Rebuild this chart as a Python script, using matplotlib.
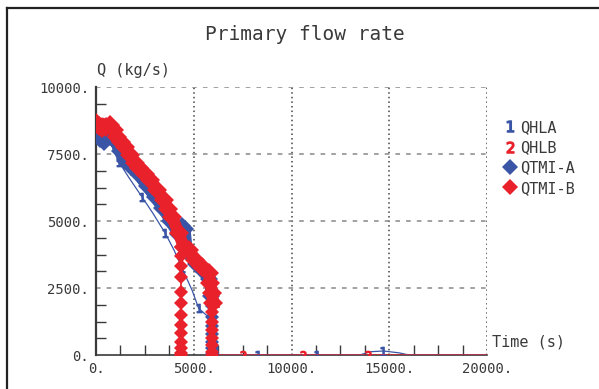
import numpy as np
import matplotlib
matplotlib.use('Agg')
import matplotlib.pyplot as plt
from matplotlib.lines import Line2D

## Data (time in s, flow in kg/s)

# QHLA (thin blue line, "1" markers)
hla_time = [0, 400, 820, 1160, 1700, 2350, 2900, 3545, 4000, 4400, 4910, 5250, 5935, 6275,
            7000, 8260, 9500, 11300, 12500, 13500, 14000, 14700, 15500, 16000, 20000]
hla_flow = [8400, 8150, 7770, 7210, 6600, 5900, 5300, 4540, 3900, 3235, 2425, 1740, 1300, 0,
            0, 0, 0, 0, 0, 0, 120, 150, 80, 0, 0]
hla_marks = [3, 5, 7, 9, 11, 15, 17, 21]

# QHLB (thin red line, "2" markers)
hlb_time = [0, 300, 700, 1100, 1500, 2200, 2800, 3500, 3900, 4300, 4700, 5100, 5500, 5800,
            5950, 6050, 7500, 10600, 13900, 20000]
hlb_flow = [8700, 8700, 8600, 8150, 7780, 6960, 6530, 5780, 5160, 4200, 3900, 3550, 3250, 3000,
            2000, 0, 0, 0, 0, 0]
hlb_marks = [1, 16, 17, 18]

# QTMI-A (blue diamonds)
tmia_time = [0, 200, 400, 700, 1000, 1250, 1500, 1800, 2200, 2600, 3000, 3400, 3800, 4200,
             4400, 4550, 4650, 4800, 5100, 5450, 5800, 5900]
tmia_flow = [8250, 8050, 7950, 8150, 7950, 7600, 7250, 7000, 6700, 6300, 5900, 5500, 5000, 4500,
             4800, 4700, 4000, 3750, 3400, 3150, 2850, 2200]
tmia_drop_time = 5950
tmia_drop_flow = [2200, 1830, 1430, 1090, 780, 500, 250, 50, 0]

# QTMI-B (red diamonds)
tmib_time = [0, 150, 300, 500, 730, 900, 1075, 1300, 1500, 1755, 2000, 2183, 2500, 2780, 3120,
             3460, 3700, 3890, 4230, 4485, 4740, 5080, 5420, 5765, 5850, 5935, 6000]
tmib_flow = [8650, 8550, 8460, 8500, 8580, 8400, 8150, 7950, 7770, 7460, 7150, 6970, 6750, 6530, 6160,
             5780, 5450, 5160, 4540, 4040, 3920, 3550, 3300, 3050, 2700, 2300, 1950]
tmib_drop1_time = 4365
tmib_drop1_flow = [4040, 3690, 3330, 2920, 2360, 1950, 1490, 1120, 810, 500, 250, 60, 0]
tmib_drop2_time = 5950
tmib_drop2_flow = [1950, 1620, 1240, 930, 620, 370, 120, 0]

blue = '#3b55a6'
red = '#e8212b'
txt = '#3a3a3a'
mono = 'DejaVu Sans Mono'

fig = plt.figure(figsize=(5.99, 3.89), dpi=100)
ax = fig.add_axes([0.1603, 0.0874, 0.6528, 0.6889])

# thin lines
ax.plot(hla_time, hla_flow, color=blue, lw=0.9, marker='$1$', ms=6, markevery=hla_marks, zorder=3)
ax.plot(hlb_time, hlb_flow, color=red, lw=0.9, marker='$2$', ms=6, markevery=hlb_marks, zorder=3)

# thick diamond series
ax.plot(tmia_time, tmia_flow, color=blue, lw=8, marker='D', ms=9, mew=0, zorder=4)
ax.plot([tmia_drop_time] * len(tmia_drop_flow), tmia_drop_flow, color=blue, lw=1.2,
        marker='D', ms=7, mew=0, zorder=4)
ax.plot(tmib_time, tmib_flow, color=red, lw=8.5, marker='D', ms=10, mew=0, zorder=5)
ax.plot([tmib_drop1_time] * len(tmib_drop1_flow), tmib_drop1_flow, color=red, lw=1.2,
        marker='D', ms=7.5, mew=0, zorder=5)
ax.plot([tmib_drop2_time] * len(tmib_drop2_flow), tmib_drop2_flow, color=red, lw=1.2,
        marker='D', ms=7.5, mew=0, zorder=5)

ax.set_xlim(0, 20000)
ax.set_ylim(0, 10000)

for s in ['top', 'right']:
    ax.spines[s].set_visible(False)
ax.spines['left'].set_linewidth(1.6)
ax.spines['left'].set_color(txt)
ax.spines['bottom'].set_linewidth(1.2)
ax.spines['bottom'].set_color(txt)

xt = [0, 5000, 10000, 15000, 20000]
yt = [0, 2500, 5000, 7500, 10000]
ax.set_xticks(xt, [str(v) + '.' for v in xt])
ax.set_yticks(yt, [str(v) + '.' for v in yt])
ax.set_xticks(np.arange(0, 20001, 1250), minor=True)
ax.set_yticks(np.arange(0, 10001, 625), minor=True)
ax.tick_params(which='major', length=0, labelsize=10, labelcolor=txt)
ax.tick_params(axis='x', which='major', pad=5)
ax.tick_params(axis='y', which='major', pad=5)
ax.tick_params(which='minor', direction='in', length=7, width=1, color=txt)
for lab in ax.get_xticklabels() + ax.get_yticklabels():
    lab.set_family(mono)

# grid: dotted verticals, dashed horizontals
for v in xt[1:]:
    ax.axvline(v, color='#444444', lw=1.1, ls=(0, (1, 2)), zorder=1)
for v in yt[1:]:
    ax.axhline(v, color='#888888', lw=1.1, ls=(0, (3, 4)), zorder=1)

# texts
fig.text(0.509, 1 - 35 / 389, 'Primary flow rate', ha='center', va='center',
         fontsize=14, family=mono, color=txt)
fig.text(97 / 599, 1 - 71 / 389, 'Q (kg/s)', ha='left', va='center',
         fontsize=11, family=mono, color=txt)
fig.text(492 / 599, 1 - 342 / 389, 'Time (s)', ha='left', va='center',
         fontsize=11, family=mono, color=txt)

# legend
handles = [Line2D([], [], ls='none', marker='$1$', color=blue, ms=8),
           Line2D([], [], ls='none', marker='$2$', color=red, ms=8),
           Line2D([], [], ls='none', marker='D', color=blue, ms=8, mew=0),
           Line2D([], [], ls='none', marker='D', color=red, ms=8, mew=0)]
leg = fig.legend(handles, ['QHLA', 'QHLB', 'QTMI-A', 'QTMI-B'], loc='upper left',
                 bbox_to_anchor=(490 / 599, 1 - 106 / 389), frameon=False,
                 handlelength=0.8, handletextpad=0.3, labelspacing=0.35,
                 prop={'family': mono, 'size': 11})
for t in leg.get_texts():
    t.set_color(txt)

# outer frame (left and top edges)
fig.add_artist(Line2D([7 / 599, 7 / 599], [0, 1 - 8 / 389], transform=fig.transFigure,
                      color='#222222', lw=1.6))
fig.add_artist(Line2D([7 / 599, 1], [1 - 8 / 389, 1 - 8 / 389], transform=fig.transFigure,
                      color='#222222', lw=1.6))

fig.savefig('out.png', dpi=100)
